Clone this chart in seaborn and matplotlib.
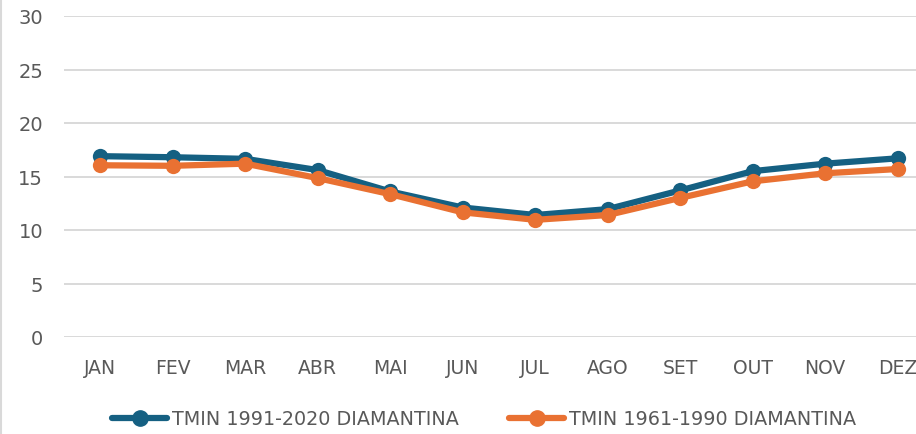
import matplotlib
matplotlib.use("Agg")
import matplotlib.pyplot as plt
from matplotlib.lines import Line2D
import seaborn as sns
import pandas as pd

months = ["JAN", "FEV", "MAR", "ABR", "MAI", "JUN", "JUL", "AGO", "SET", "OUT", "NOV", "DEZ"]
tmin_1991_2020 = [16.9, 16.8, 16.65, 15.6, 13.6, 12.1, 11.4, 11.95, 13.7, 15.5, 16.2, 16.7]
tmin_1961_1990 = [16.05, 16.0, 16.2, 14.85, 13.35, 11.65, 10.95, 11.4, 13.0, 14.55, 15.3, 15.7]
series_names = ["TMIN 1991-2020 DIAMANTINA", "TMIN 1961-1990 DIAMANTINA"]
colors = ["#156082", "#E97132"]
yticks = [0, 5, 10, 15, 20, 25, 30]

df = pd.DataFrame({
    "month": months * 2,
    "value": tmin_1991_2020 + tmin_1961_1990,
    "series": [series_names[0]] * len(months) + [series_names[1]] * len(months),
})
df["month"] = pd.Categorical(df["month"], categories=months, ordered=True)

sns.set_style("white")
plt.rcParams["font.family"] = ["DejaVu Sans"]

W, H = 916, 435
fig = plt.figure(figsize=(W / 100, H / 100), dpi=100)
ax = fig.add_axes([64 / W, (H - 338) / H, 870 / W, (338 - 17) / H])

sns.lineplot(data=df, x="month", y="value", hue="series", palette=colors,
             hue_order=series_names, marker="o", markersize=11, linewidth=4.5,
             markeredgewidth=0, ax=ax, sort=False)

ax.set_xlim(-0.5, 11.5)
ax.set_ylim(0, 30)
ax.set_yticks(yticks)
ax.yaxis.grid(True, color="#D9D9D9", linewidth=1.4)
ax.set_axisbelow(True)
for s in ax.spines.values():
    s.set_visible(False)
ax.set_xlabel("")
ax.set_ylabel("")
ax.tick_params(axis="both", length=0, colors="#595959")
ax.tick_params(axis="y", pad=15, labelsize=14)
ax.tick_params(axis="x", pad=15, labelsize=13.5)

leg = ax.get_legend()
handles = [Line2D([0], [0], color=c, lw=4.5, marker="o", markersize=11) for c in colors]
leg.remove()
fig.legend(handles, series_names, loc="center", bbox_to_anchor=(484 / W, 1 - 420 / H),
           ncol=2, frameon=False, fontsize=13.8, handlelength=2.9, handletextpad=0.25,
           columnspacing=2.6, labelcolor="#595959")

fig.add_artist(Line2D([1 / W, 1 / W], [0, 1], color="#D9D9D9", lw=1.5))

fig.savefig("out.png", dpi=100)
